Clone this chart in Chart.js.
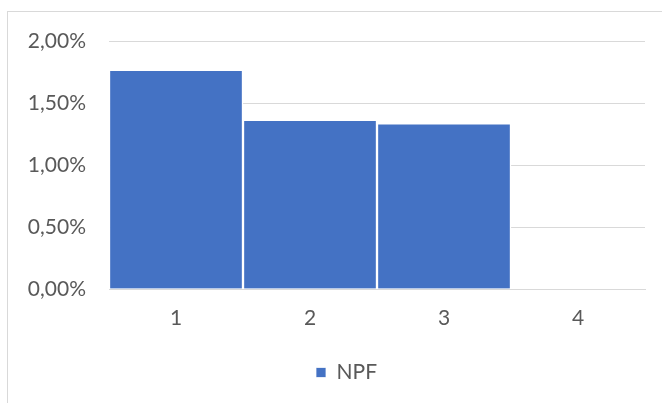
<!DOCTYPE html>
<html>
<head>
<meta charset="utf-8">
<script src="https://cdn.jsdelivr.net/npm/chart.js@4"></script>
<style>
  html, body { margin: 0; padding: 0; background: #fff; overflow: hidden; }
  #wrap { position: relative; width: 662px; height: 403px; }
  #frame { position: absolute; left: 7px; top: 11px; width: 700px; height: 440px;
           border: 1px solid #d9d9d9; box-sizing: border-box; pointer-events: none; }
  canvas { position: absolute; left: 0; top: 0; }
</style>
</head>
<body>
<div id="wrap">
  <canvas id="chart" width="662" height="403"></canvas>
  <div id="frame"></div>
</div>
<script>
// Datos del gráfico
const categorias = ['1', '2', '3', '4'];
const serieNombre = 'NPF';
const valoresNPF = [0.01759, 0.01354, 0.01327, null];
const ticksY = [0, 0.005, 0.01, 0.015, 0.02];

const AZUL = '#4472C4';
const GRIS_TEXTO = '#595959';
const GRIS_LINEA = '#d9d9d9';
const FUENTE = "Lato, 'Open Sans', sans-serif";

function formatPct(v) {
  return (v * 100).toFixed(2).replace('.', ',') + '%';
}

// Desplaza la leyenda un poco a la derecha, como en el original
const moverLeyenda = {
  id: 'moverLeyenda',
  afterLayout(chart) {
    if (!chart.legend) return;
    chart.legend.left += 24;
    chart.legend.right += 24;
  },
};

new Chart(document.getElementById('chart'), {
  type: 'bar',
  data: {
    labels: categorias,
    datasets: [{
      label: serieNombre,
      data: valoresNPF,
      backgroundColor: AZUL,
      borderColor: '#ffffff',
      borderWidth: { top: 0, left: 1.5, right: 1.5, bottom: 0 },
      borderSkipped: 'bottom',
      categoryPercentage: 1,
      barPercentage: 1,
    }],
  },
  options: {
    responsive: false,
    animation: false,
    layout: { padding: { top: 41, right: 17, bottom: 10, left: 0 } },
    plugins: {
      tooltip: { enabled: false },
      legend: {
        position: 'bottom',
        labels: {
          boxWidth: 10,
          boxHeight: 10,
          padding: 12,
          color: GRIS_TEXTO,
          font: { family: FUENTE, size: 21 },
        },
      },
    },
    scales: {
      x: {
        afterFit(scale) { scale.height = 61; },
        grid: { display: false, drawTicks: false },
        border: { display: true, color: GRIS_LINEA, width: 1 },
        ticks: { color: GRIS_TEXTO, font: { family: FUENTE, size: 21 }, padding: 17 },
      },
      y: {
        min: 0,
        max: 0.02,
        afterFit(scale) { scale.width = 109; },
        afterBuildTicks(scale) { scale.ticks = ticksY.map(v => ({ value: v })); },
        grid: { color: GRIS_LINEA, lineWidth: 1, drawTicks: false },
        border: { display: false },
        ticks: {
          color: GRIS_TEXTO,
          font: { family: FUENTE, size: 21 },
          padding: 23,
          callback: v => formatPct(v),
        },
      },
    },
  },
  plugins: [moverLeyenda],
});
</script>
</body>
</html>
